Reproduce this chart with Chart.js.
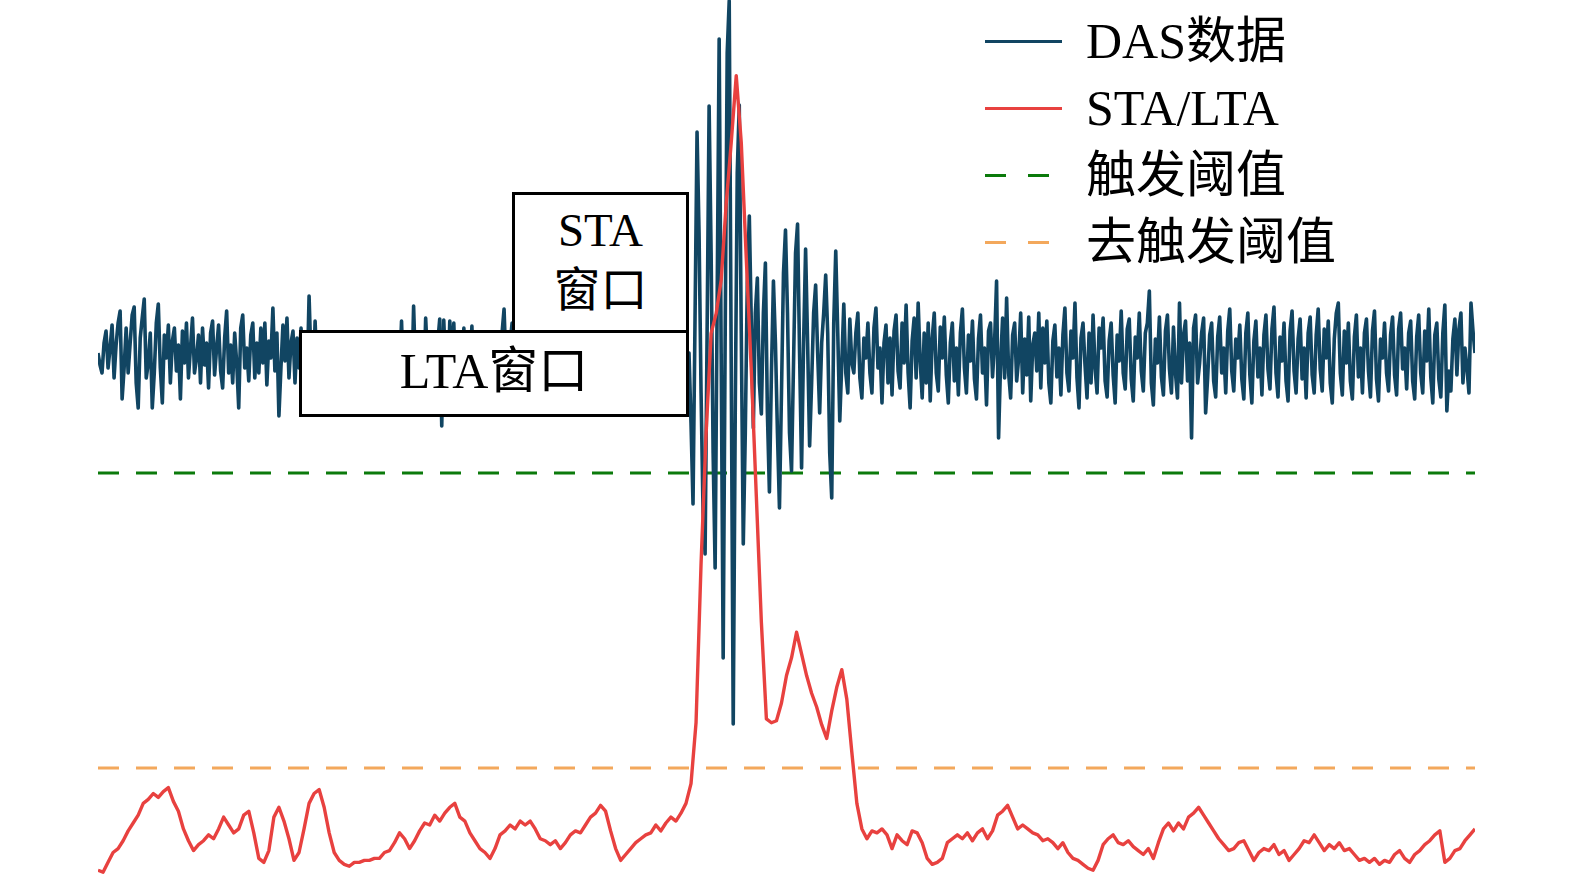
<!DOCTYPE html>
<html>
<head>
<meta charset="utf-8">
<script src="https://cdn.jsdelivr.net/npm/chart.js@4.4.0/dist/chart.umd.min.js"></script>
<style>
html,body{margin:0;padding:0;background:#fff;}
#wrap{position:relative;width:1575px;height:883px;overflow:hidden;background:#fff;}
#chart{position:absolute;left:0;top:0;}
.txt{font-family:'Liberation Serif','Noto Sans CJK SC',serif;color:#000;}
.box{position:absolute;box-sizing:border-box;border:3px solid #000;background:#fff;text-align:center;}
#staBox{left:512px;top:192px;width:177px;height:141px;padding-top:5px;font-size:47px;line-height:60px;}
#ltaBox{left:299px;top:330px;width:390px;height:87px;font-size:50px;display:flex;align-items:center;justify-content:center;padding-bottom:16px;}
#legend{position:absolute;left:985px;top:8px;}
.row{position:relative;height:67px;width:420px;}
.sample{position:absolute;left:0;top:32px;width:77px;height:3px;}
.seg{position:absolute;top:0;height:3px;width:21px;}
.lab{position:absolute;left:101px;top:0;font-size:50px;line-height:67px;white-space:nowrap;}
</style>
</head>
<body>
<div id="wrap">
  <canvas id="chart" width="1575" height="883"></canvas>
  <div id="staBox" class="box txt"><div>STA</div><div>窗口</div></div>
  <div id="ltaBox" class="box txt">LTA窗口</div>
  <div id="legend" class="txt"></div>
</div>
<script>
// ---- data ----
// DAS raw amplitude samples (arbitrary units), dt = 0.01 s
const dasValues = [
  0,-12,-20,10,22,-15,5,28,-25,8,30,42,-46,-15,25,-20,10,38,46,-30,
  -55,15,35,54,-25,-10,20,-55,-20,30,49,-15,-50,18,-5,28,-30,12,25,-18,
  8,-46,22,-10,30,-25,5,35,-20,-5,18,-30,25,-12,10,-35,20,32,-22,5,
  28,-18,-35,15,42,-20,8,-30,20,-10,-55,25,38,-15,5,-28,18,30,-25,10,
  -20,25,-10,30,-32,12,-5,45,-18,20,-63,-15,28,-8,35,-25,10,22,-30,15,
  -15,25,-20,8,-30,57,-10,-35,32,-22,5,-40,18,-12,10,-30,15,-20,5,-38,
  18,-15,-45,12,-25,20,-8,-40,15,-20,10,-35,16,-12,-42,8,-25,16,-38,12,
  -18,18,-40,5,20,-30,-10,15,-44,20,-20,32,-35,10,-25,15,-40,47,-20,-45,
  10,-25,-38,35,-10,12,-45,18,-25,10,34,-73,33,-20,-40,32,-10,30,-35,-15,
  10,-30,25,-40,12,-20,27,-35,15,-28,-10,18,-30,10,-38,15,-25,18,-30,12,
  -35,20,44,-15,-45,10,30,-25,5,-40,20,35,-30,-10,40,-20,-35,25,-8,30,
  -45,18,-15,38,-22,5,-40,30,-10,-48,20,42,-15,-38,25,-5,35,-45,10,28,
  -20,-42,22,-8,40,-18,-35,15,30,-28,5,-46,36,-22,12,-40,32,-15,-50,20,
  38,-15,-38,24,-5,34,-26,-44,16,30,-20,8,-42,22,40,-18,-36,14,-8,28,
  -28,-48,20,36,-24,5,-40,18,32,-22,-46,14,30,-10,
  0,-70,-151,35,221,120,-40,-160,-201,20,
  247,100,-100,-215,50,314,0,-305,20,300,
  352,-10,-371,-60,180,248,20,-191,-80,70,
  137,30,-75,40,75,-30,-61,40,90,-60,
  -139,-20,72,10,-80,-155,-40,80,123,40,
  -80,-118,-10,100,129,0,-115,10,104,10,
  -93,-30,40,68,0,-60,10,40,78,20,
  -100,-145,30,102,20,-68,-10,49,-20,-40,
  34,-10,
  -20,20,40,-25,-45,15,-5,30,-20,-40,25,45,-15,5,-50,10,28,-30,15,-42,
  22,38,-18,-35,30,-10,48,-20,-55,12,35,-25,50,-8,-45,20,-30,30,-48,15,
  40,-20,-38,26,-5,36,-22,-50,10,30,-28,5,-42,20,44,-15,-40,18,-8,32,
  -26,-46,14,38,-20,5,-52,22,30,-24,10,72,-85,-10,35,-25,55,-20,-45,18,
  30,-28,-5,40,-40,14,-22,36,-48,8,20,-18,40,-35,25,-10,32,-30,-50,12,
  28,-24,5,-42,18,45,-20,-38,22,-5,50,-25,-55,15,30,-12,-45,20,-30,38,
  -15,-40,25,5,35,-28,-44,12,30,-22,-50,18,-8,42,-20,-36,24,34,-26,-48,
  16,-5,40,-18,-38,20,30,62,-30,-52,14,-10,36,-24,-42,22,38,-16,-40,26,
  -20,-45,50,-30,18,32,-28,10,-85,25,38,-30,-10,20,35,-60,-25,18,30,-28,
  -44,16,36,-20,5,-40,22,44,-18,-38,14,-5,28,-26,-46,20,40,-22,-50,12,
  32,-24,5,-42,18,38,-16,-36,24,46,-20,-44,16,-8,30,-28,-48,22,42,-18,
  -40,14,34,-26,5,-45,20,36,-22,-40,18,44,-16,-38,24,-5,32,-30,-50,14,
  40,50,-20,-42,22,-10,30,-28,-46,16,38,-24,5,-40,20,34,-18,-44,22,42,
  -26,-48,14,-5,30,-20,-38,18,36,-22,-42,24,40,-16,5,-36,20,32,-28,-46,
  16,38,-20,-40,22,-8,44,-24,-50,18,30,-26,-44,20,48,-58,-18,-38,14,34,
  -22,24,40,-30,5,-15,-40,50,22,0
];
// STA/LTA ratio, dt = 0.025 s
const staLtaValues = [
  0.98,0.97,1.02,1.07,1.09,1.13,1.18,1.22,1.26,1.32,
  1.34,1.37,1.35,1.38,1.40,1.33,1.28,1.19,1.13,1.08,
  1.11,1.13,1.16,1.14,1.19,1.25,1.21,1.17,1.19,1.26,
  1.28,1.17,1.04,1.02,1.08,1.25,1.30,1.23,1.14,1.03,
  1.07,1.19,1.32,1.37,1.39,1.30,1.17,1.07,1.03,1.01,
  1.00,1.02,1.02,1.03,1.03,1.04,1.04,1.07,1.08,1.12,
  1.17,1.14,1.09,1.13,1.18,1.22,1.21,1.26,1.23,1.27,
  1.30,1.32,1.25,1.23,1.17,1.13,1.09,1.07,1.04,1.09,
  1.16,1.18,1.21,1.19,1.23,1.21,1.23,1.19,1.14,1.13,
  1.11,1.13,1.09,1.12,1.16,1.18,1.17,1.21,1.25,1.27,
  1.31,1.28,1.18,1.09,1.03,1.06,1.09,1.12,1.14,1.16,
  1.17,1.21,1.18,1.22,1.25,1.23,1.27,1.32,1.42,1.73,
  2.54,3.20,3.71,3.81,3.98,4.37,4.68,5.02,4.68,4.09,
  3.52,2.88,2.24,1.75,1.73,1.74,1.83,1.97,2.06,2.19,
  2.08,1.97,1.88,1.81,1.72,1.65,1.79,1.91,2.00,1.85,
  1.58,1.32,1.19,1.14,1.18,1.17,1.19,1.16,1.09,1.16,
  1.13,1.11,1.18,1.17,1.12,1.04,1.01,1.02,1.04,1.12,
  1.14,1.16,1.14,1.17,1.13,1.17,1.19,1.14,1.18,1.26,
  1.28,1.31,1.25,1.19,1.21,1.19,1.17,1.16,1.13,1.14,
  1.12,1.09,1.12,1.07,1.04,1.03,1.01,0.99,0.98,1.03,
  1.11,1.14,1.16,1.12,1.11,1.13,1.10,1.08,1.06,1.09,
  1.04,1.12,1.19,1.22,1.18,1.22,1.19,1.25,1.27,1.30,
  1.26,1.22,1.18,1.14,1.11,1.08,1.09,1.12,1.13,1.08,
  1.03,1.07,1.09,1.08,1.11,1.06,1.08,1.03,1.06,1.09,
  1.13,1.12,1.16,1.12,1.08,1.11,1.09,1.12,1.08,1.09,
  1.06,1.03,1.04,1.02,1.04,1.01,1.03,1.02,1.06,1.08,
  1.04,1.02,1.06,1.08,1.11,1.13,1.16,1.18,1.02,1.04,
  1.08,1.09,1.13,1.16,1.19
];
const DAS_DT = 0.01;
const STA_DT = 0.025;
const TRIGGER = 3.0;
const DETRIGGER = 1.5;
const seriesLabels = ['DAS数据', 'STA/LTA', '触发阈值', '去触发阈值'];

// ---- styles ----
const COLORS = ['#114562', '#e8413f', '#0b7a0b', '#f3a85c'];
const DASH = [21, 17];

const T_END = (dasValues.length - 1) * DAS_DT;
const dasPoints = dasValues.map((v, i) => ({ x: +(i * DAS_DT).toFixed(4), y: v }));
const staPoints = staLtaValues.map((v, i) => ({ x: +(i * STA_DT).toFixed(4), y: v }));

const common = { pointRadius: 0, tension: 0, fill: false, borderWidth: 3, borderJoinStyle: 'round', borderCapStyle: 'butt' };

const chart = new Chart(document.getElementById('chart'), {
  type: 'line',
  data: {
    datasets: [
      Object.assign({}, common, { label: seriesLabels[0], data: dasPoints, yAxisID: 'y', borderColor: COLORS[0], borderWidth: 3.6, order: 1 }),
      Object.assign({}, common, { label: seriesLabels[1], data: staPoints, yAxisID: 'y2', borderColor: COLORS[1], borderWidth: 3.4, order: 0 }),
      Object.assign({}, common, { label: seriesLabels[2], data: [{ x: 0, y: TRIGGER }, { x: T_END, y: TRIGGER }], yAxisID: 'y2', borderColor: COLORS[2], borderDash: DASH, order: 2 }),
      Object.assign({}, common, { label: seriesLabels[3], data: [{ x: 0, y: DETRIGGER }, { x: T_END, y: DETRIGGER }], yAxisID: 'y2', borderColor: COLORS[3], borderDash: DASH, order: 3 })
    ]
  },
  options: {
    responsive: false,
    animation: false,
    events: [],
    layout: { padding: { left: 98, right: 100, top: 0, bottom: 0 } },
    scales: {
      x: { type: 'linear', min: 0, max: T_END, display: false },
      y: { type: 'linear', min: -530, max: 353, display: false },
      y2: { type: 'linear', min: 0.915, max: 5.405, display: false, position: 'right' }
    },
    plugins: { legend: { display: false }, tooltip: { enabled: false } }
  }
});

// ---- HTML legend built from the chart's datasets ----
const legend = document.getElementById('legend');
chart.data.datasets.forEach(ds => {
  const row = document.createElement('div');
  row.className = 'row';
  const sample = document.createElement('div');
  sample.className = 'sample';
  if (ds.borderDash) {
    [0, 43].forEach(left => {
      const s = document.createElement('div');
      s.className = 'seg';
      s.style.left = left + 'px';
      s.style.background = ds.borderColor;
      sample.appendChild(s);
    });
  } else {
    sample.style.background = ds.borderColor;
  }
  const lab = document.createElement('div');
  lab.className = 'lab';
  lab.textContent = ds.label;
  row.appendChild(sample);
  row.appendChild(lab);
  legend.appendChild(row);
});
</script>
</body>
</html>
